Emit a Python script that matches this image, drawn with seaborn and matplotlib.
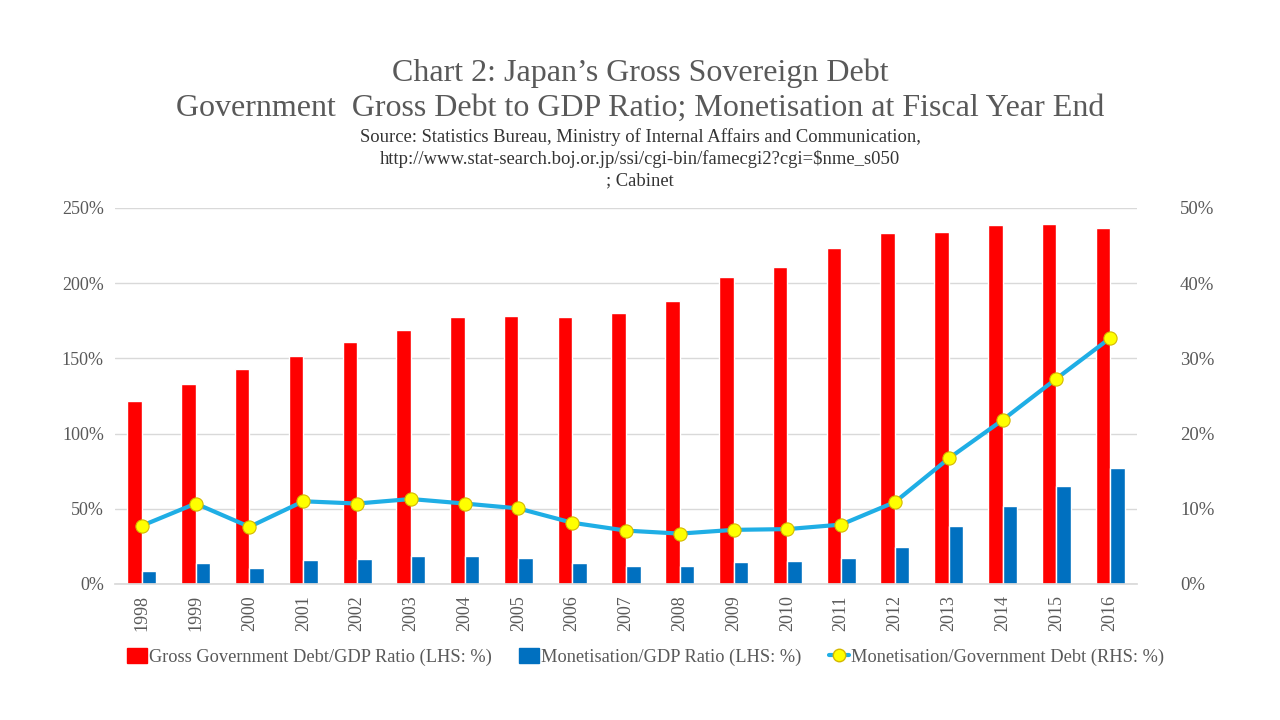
import matplotlib
matplotlib.use("Agg")
import matplotlib.pyplot as plt
import seaborn as sns
import pandas as pd
import numpy as np
from matplotlib.ticker import FuncFormatter
from matplotlib.patches import Patch
from matplotlib.lines import Line2D

years = [str(y) for y in range(1998, 2017)]
gross_debt = [121.7, 133.2, 143.0, 151.8, 160.9, 168.9, 177.7, 178.2, 177.7, 180.2,
              188.4, 204.3, 211.0, 223.6, 233.6, 234.0, 238.9, 239.6, 236.9]
monetisation_gdp = [8.9, 14.2, 10.9, 16.2, 16.8, 18.8, 18.8, 17.5, 14.2, 12.2,
                    12.2, 14.9, 15.5, 17.5, 24.8, 38.8, 52.1, 65.4, 77.3]
monetisation_debt = [7.75, 10.7, 7.6, 11.0, 10.7, 11.3, 10.7, 10.05, 8.15, 7.1,
                     6.7, 7.2, 7.3, 7.9, 10.9, 16.7, 21.8, 27.3, 32.7]

lbl_red = "Gross Government Debt/GDP Ratio (LHS: %)"
lbl_blue = "Monetisation/GDP Ratio (LHS: %)"
lbl_line = "Monetisation/Government Debt (RHS: %)"

sns.set_theme(style="white")
plt.rcParams['font.family'] = ['Liberation Serif', 'DejaVu Serif']

RED = "#FF0000"
BLUE = "#0070C0"
LINE = "#1FAEE5"
GRAY = "#595959"

df = pd.DataFrame({
    "year": years * 2,
    "value": gross_debt + monetisation_gdp,
    "series": [lbl_red] * len(years) + [lbl_blue] * len(years),
})

fig = plt.figure(figsize=(12.8, 7.2), dpi=100)
ax = fig.add_axes([115 / 1280, 1 - 584 / 720, (1137 - 115) / 1280, (584 - 208) / 720])

sns.barplot(data=df, x="year", y="value", hue="series", palette=[RED, BLUE],
            width=0.54, gap=0, saturation=1, ax=ax, legend=False)

ax.set_ylim(0, 250)
ax.set_xlim(-0.5, len(years) - 0.5)
ax.set_yticks(np.arange(0, 251, 50))
ax.yaxis.set_major_formatter(FuncFormatter(lambda v, p: f"{int(v)}%"))
ax.grid(axis="y", color="#D9D9D9", linewidth=1)
ax.set_axisbelow(True)
for s in ["top", "left", "right"]:
    ax.spines[s].set_visible(False)
ax.spines["bottom"].set_color("#D9D9D9")
ax.set_xlabel("")
ax.set_ylabel("")
ax.tick_params(axis="y", colors=GRAY, labelsize=13, length=0, pad=8)
ax.tick_params(axis="x", colors=GRAY, labelsize=13, length=0, pad=8)
for t in ax.get_xticklabels():
    t.set_rotation(90)

ax2 = ax.twinx()
sns.lineplot(x=np.arange(len(years)), y=monetisation_debt, ax=ax2, color=LINE,
             linewidth=3, marker="o", markersize=9.5, markerfacecolor="#FFFF00",
             markeredgecolor="#D4B800", markeredgewidth=0.8, zorder=5)
ax2.set_ylim(0, 50)
ax2.set_yticks(np.arange(0, 51, 10))
ax2.yaxis.set_major_formatter(FuncFormatter(lambda v, p: f"{int(v)}%"))
for s in ["top", "left", "right", "bottom"]:
    ax2.spines[s].set_visible(False)
ax2.tick_params(axis="y", colors=GRAY, labelsize=13.5, length=0, pad=31)
ax2.grid(False)
ax2.set_xlim(-0.5, len(years) - 0.5)

fig.text(0.5, 1 - 73 / 720, "Chart 2: Japan\u2019s Gross Sovereign Debt", ha="center", va="center",
         fontsize=23, color=GRAY)
fig.text(0.5, 1 - 108 / 720, "Government  Gross Debt to GDP Ratio; Monetisation at Fiscal Year End",
         ha="center", va="center", fontsize=23, color=GRAY)
fig.text(0.5, 1 - 137 / 720, "Source: Statistics Bureau, Ministry of Internal Affairs and Communication,",
         ha="center", va="center", fontsize=13.4, color="#333333")
fig.text(0.5, 1 - 159 / 720, "http://www.stat-search.boj.or.jp/ssi/cgi-bin/famecgi2?cgi=$nme_s050",
         ha="center", va="center", fontsize=13.4, color="#333333")
fig.text(0.5, 1 - 181 / 720, "; Cabinet", ha="center", va="center", fontsize=13.4, color="#333333")

handles = [
    Patch(facecolor=RED, edgecolor=RED),
    Patch(facecolor=BLUE, edgecolor=BLUE),
    Line2D([0], [0], color=LINE, linewidth=3, marker="o", markersize=9,
           markerfacecolor="#FFFF00", markeredgecolor="#D4B800"),
]
fig.legend(handles, [lbl_red, lbl_blue, lbl_line], loc="center", ncol=3,
           bbox_to_anchor=(0.504, 1 - 657 / 720), frameon=False, fontsize=13.2,
           labelcolor=GRAY, handlelength=1.1, handleheight=0.9, handletextpad=0.1,
           columnspacing=1.5)

fig.savefig("out.png", dpi=100, facecolor="white")
